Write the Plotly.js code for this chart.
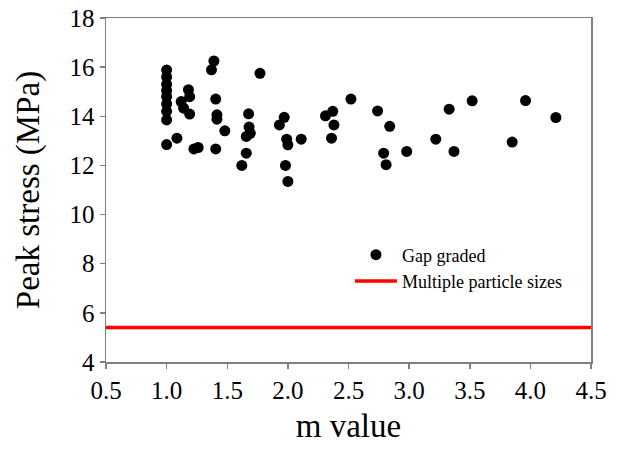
<!DOCTYPE html>
<html>
<head>
<meta charset="utf-8">
<script src="https://cdn.plot.ly/plotly-3.0.1.min.js"></script>
<style>html,body{margin:0;padding:0;background:#fff;}#chart{width:621px;height:457px;}</style>
</head>
<body>
<div id="chart"></div>
<script>
// Gap graded samples: m value vs peak stress (MPa)
var mValues = [
  1.0, 1.0, 1.0, 1.0, 1.0, 1.0, 1.0, 1.0, 1.0,
  1.085, 1.12, 1.18, 1.19, 1.14, 1.19, 1.225, 1.26,
  1.37, 1.39, 1.405, 1.415, 1.415, 1.405, 1.48,
  1.62, 1.657, 1.676, 1.68, 1.69, 1.657, 1.77,
  1.93, 1.97, 1.99, 2.0, 1.98, 2.0, 2.11,
  2.31, 2.37, 2.38, 2.36, 2.52, 2.74, 2.84, 2.79, 2.81, 2.98,
  3.22, 3.33, 3.37, 3.52, 3.85, 3.96, 4.21
];
var peakStress = [
  15.88, 15.6, 15.3, 15.05, 14.8, 14.5, 14.2, 13.85, 12.85,
  13.11, 14.6, 15.08, 14.8, 14.33, 14.09, 12.67, 12.73,
  15.89, 16.25, 14.7, 14.06, 13.88, 12.67, 13.41,
  12.0, 12.5, 14.1, 13.56, 13.31, 13.18, 15.75,
  13.65, 13.96, 13.07, 12.84, 12.0, 11.35, 13.07,
  14.02, 14.2, 13.65, 13.11, 14.7, 14.22, 13.59, 12.5, 12.03, 12.57,
  13.07, 14.29, 12.57, 14.63, 12.95, 14.64, 13.95
];
// Multiple particle sizes reference level
var multiX = [0.5, 4.5];
var multiY = [5.4, 5.4];

var serif = 'Liberation Serif';
var axisColor = '#808080';

var traces = [
  {
    type: 'scatter', mode: 'markers', name: 'Gap graded',
    x: mValues, y: peakStress,
    marker: {color: '#000000', size: 11, line: {width: 0}},
    cliponaxis: false
  },
  {
    type: 'scatter', mode: 'lines', name: 'Multiple particle sizes',
    x: multiX, y: multiY,
    line: {color: '#ff0000', width: 3.5}
  }
];

var layout = {
  width: 621, height: 457,
  margin: {l: 106, r: 30, t: 18, b: 95},
  paper_bgcolor: '#ffffff', plot_bgcolor: '#ffffff',
  font: {family: serif, color: '#000000'},
  showlegend: true,
  legend: {
    x: 0.503, y: 0.365, xanchor: 'left', yanchor: 'top',
    bgcolor: 'rgba(0,0,0,0)', borderwidth: 0,
    font: {family: serif, size: 18, color: '#000000'},
    itemwidth: 42, tracegroupgap: 0
  },
  xaxis: {
    range: [0.5, 4.5], dtick: 0.5, tick0: 0.5, tickformat: '.1f',
    showgrid: false, zeroline: false,
    showline: true, linecolor: axisColor, linewidth: 1.5, mirror: true,
    ticks: 'outside', ticklen: 5, tickcolor: axisColor, tickwidth: 1.5,
    tickfont: {family: serif, size: 25, color: '#000000'},
    title: {text: 'm value', font: {family: serif, size: 33, color: '#000000'}, standoff: 11}
  },
  yaxis: {
    range: [4, 18], dtick: 2, tick0: 4,
    showgrid: false, zeroline: false,
    showline: true, linecolor: axisColor, linewidth: 1.5, mirror: true,
    ticks: 'outside', ticklen: 5, tickcolor: axisColor, tickwidth: 1.5,
    tickfont: {family: serif, size: 25, color: '#000000'},
    title: {text: 'Peak stress (MPa)', font: {family: serif, size: 33, color: '#000000'}, standoff: 20}
  }
};

Plotly.newPlot('chart', traces, layout, {displayModeBar: false, staticPlot: true});
</script>
</body>
</html>
